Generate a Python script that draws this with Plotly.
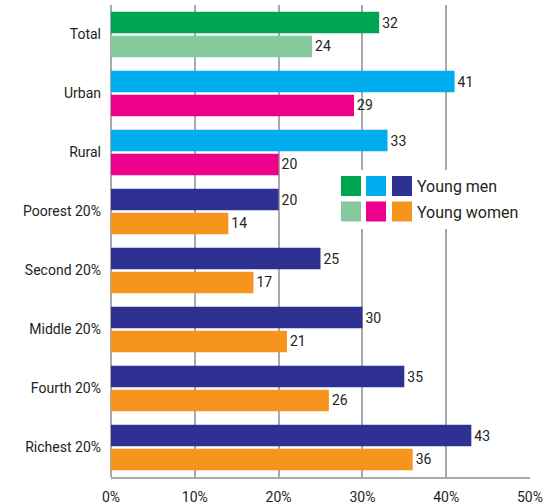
import plotly.graph_objects as go

categories = ["Total", "Urban", "Rural", "Poorest 20%", "Second 20%",
              "Middle 20%", "Fourth 20%", "Richest 20%"]
young_men = [32, 41, 33, 20, 25, 30, 35, 43]
young_women = [24, 29, 20, 14, 17, 21, 26, 36]
x_ticks = [0, 10, 20, 30, 40, 50]

men_colors = ["#00a551", "#00aeef", "#00aeef", "#2e3192", "#2e3192",
              "#2e3192", "#2e3192", "#2e3192"]
women_colors = ["#86c99d", "#ec008c", "#ec008c", "#f7941d", "#f7941d",
                "#f7941d", "#f7941d", "#f7941d"]

FONT = "Roboto, Liberation Sans, sans-serif"
TXT = "#231f20"
GRID = "#a7a9ac"

fig = go.Figure()
fig.add_trace(go.Bar(
    y=categories, x=young_men, orientation="h", name="Young men",
    marker=dict(color=men_colors, line=dict(width=0)),
    text=[str(v) for v in young_men], textposition="outside",
    textfont=dict(family=FONT, size=14, color=TXT), cliponaxis=False,
))
fig.add_trace(go.Bar(
    y=categories, x=young_women, orientation="h", name="Young women",
    marker=dict(color=women_colors, line=dict(width=0)),
    text=[str(v) for v in young_women], textposition="outside",
    textfont=dict(family=FONT, size=14, color=TXT), cliponaxis=False,
))

W, H = 556, 504
ml, mr, mt, mb = 111, 26, 5, 27
pw, ph = W - ml - mr, H - mt - mb


def px(x):
    return (x - ml) / pw


def py(y):
    return 1 - (y - mt) / ph


shapes = [
    # legend background
    dict(type="rect", xref="paper", yref="paper",
         x0=px(334), x1=px(528), y0=py(229), y1=py(170),
         fillcolor="white", line=dict(width=0), layer="above"),
]
legend_rows = [(176, men_colors[0], men_colors[1], men_colors[3], "Young men"),
               (201.5, women_colors[0], women_colors[1], women_colors[3], "Young women")]
annotations = []
for top, c1, c2, c3, label in legend_rows:
    for x0, c in ((341, c1), (366, c2), (392, c3)):
        shapes.append(dict(type="rect", xref="paper", yref="paper",
                           x0=px(x0), x1=px(x0 + 20), y0=py(top + 20), y1=py(top),
                           fillcolor=c, line=dict(width=0), layer="above"))
    annotations.append(dict(xref="paper", yref="paper", x=px(415), y=py(top + 10.5),
                            text=label, showarrow=False, xanchor="left", yanchor="middle",
                            font=dict(family=FONT, size=16, color=TXT)))

fig.update_layout(
    width=W, height=H,
    margin=dict(l=ml, r=mr, t=mt, b=mb, pad=0, autoexpand=False),
    paper_bgcolor="white", plot_bgcolor="white",
    barmode="group", bargap=0.19, bargroupgap=0.1,
    showlegend=False,
    font=dict(family=FONT, color=TXT),
    shapes=shapes, annotations=annotations,
    xaxis=dict(range=[0, 50], tickvals=x_ticks,
               ticktext=[f"{v}%" for v in x_ticks],
               showgrid=True, gridcolor=GRID, gridwidth=1.5,
               zeroline=True, zerolinecolor=GRID, zerolinewidth=1.5,
               showline=True, linecolor=GRID, linewidth=1.5,
               ticks="", ticklabelstandoff=6, automargin=False,
               tickfont=dict(family=FONT, size=14, color=TXT)),
    yaxis=dict(autorange="reversed", showgrid=False, zeroline=False,
               showline=False, ticks="", ticklabelstandoff=9, automargin=False,
               tickfont=dict(family=FONT, size=14, color=TXT)),
)

fig.write_html(
    "out.html",
    config={"displayModeBar": False},
    post_script="document.body.style.margin='0';document.body.style.overflow='hidden';",
)
